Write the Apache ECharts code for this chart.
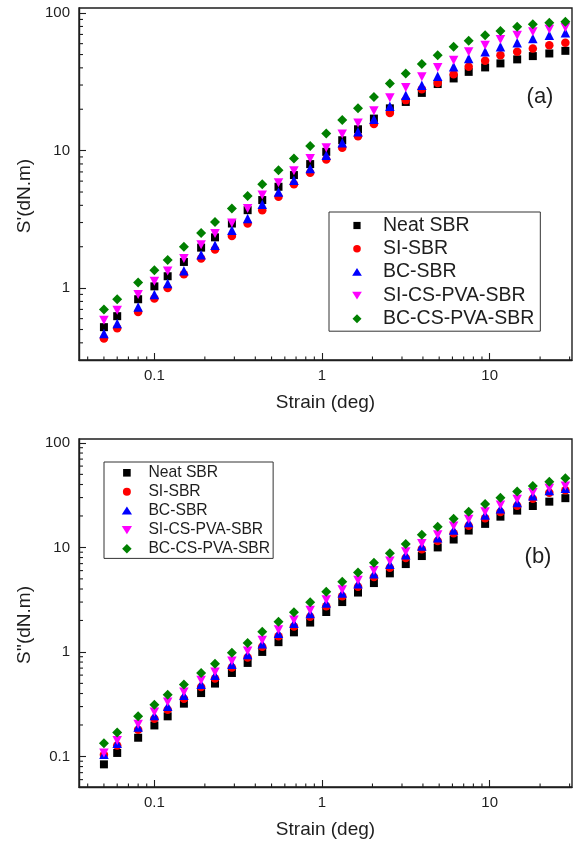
<!DOCTYPE html>
<html>
<head>
<meta charset="utf-8">
<script src="https://cdn.jsdelivr.net/npm/echarts@6/dist/echarts.min.js"></script>
<style>
  html, body { margin: 0; padding: 0; background: #fff; }
  #chart { width: 577px; height: 844px; }
</style>
</head>
<body>
<div id="chart"></div>
<script>
// Strain sweep (deg)
const strain = [0.05, 0.06, 0.08, 0.1, 0.12, 0.15, 0.19, 0.23, 0.29, 0.36, 0.44, 0.55, 0.68, 0.85, 1.06,
  1.32, 1.64, 2.04, 2.54, 3.16, 3.94, 4.9, 6.1, 7.5, 9.4, 11.6, 14.6, 18.1, 22.7, 28.3];

const seriesNames = ['Neat SBR', 'SI-SBR', 'BC-SBR', 'SI-CS-PVA-SBR', 'BC-CS-PVA-SBR'];

// (a) elastic torque S' (dN.m)
const storageNeat = [0.52, 0.625, 0.83, 1.03, 1.22, 1.55, 1.97, 2.34, 2.95, 3.69, 4.37, 5.46, 6.64, 7.98, 9.8,
  11.9, 14.3, 17.1, 20.3, 22.6, 26.3, 30.5, 33.5, 37.4, 40.3, 43.1, 46.1, 48.7, 50.9, 53.2];
const storageSI = [0.43, 0.51, 0.67, 0.84, 1.0, 1.26, 1.64, 1.91, 2.39, 2.95, 3.69, 4.61, 5.7, 6.9, 8.63,
  10.5, 12.7, 15.6, 18.8, 23.3, 27.9, 31.1, 36.0, 40.7, 45.0, 49.5, 52.3, 55.3, 58.5, 60.8];
const storageBC = [0.468, 0.553, 0.73, 0.9, 1.08, 1.34, 1.75, 2.05, 2.64, 3.21, 4.08, 5.0, 6.1, 7.42, 9.27,
  11.4, 13.7, 16.9, 21.0, 25.3, 29.9, 34.8, 40.7, 46.8, 52.3, 56.9, 60.8, 65.5, 69.2, 72.1];
const storageSICS = [0.585, 0.69, 0.9, 1.12, 1.33, 1.64, 2.07, 2.5, 2.98, 3.8, 4.75, 5.83, 7.13, 8.77, 10.5,
  13.2, 15.9, 19.5, 24.2, 28.8, 34.4, 40.3, 45.5, 52.3, 58.5, 64.4, 69.2, 73.1, 76.2, 78.7];
const storageBCCS = [0.7, 0.83, 1.1, 1.35, 1.6, 2.0, 2.52, 3.03, 3.8, 4.67, 5.7, 7.2, 8.77, 10.8, 13.3,
  16.7, 20.3, 24.6, 30.8, 36.4, 42.6, 49.5, 56.9, 62.9, 69.2, 74.3, 79.5, 83.2, 85.1, 86.5];

// (b) viscous torque S'' (dN.m)
const lossNeat = [0.084, 0.108, 0.151, 0.198, 0.242, 0.32, 0.404, 0.498, 0.629, 0.785, 1.0, 1.24, 1.54, 1.91, 2.41,
  3.0, 3.7, 4.56, 5.65, 6.93, 8.27, 10.0, 11.9, 14.5, 16.8, 19.7, 22.5, 24.9, 27.4, 29.6];
const lossSI = [0.104, 0.127, 0.18, 0.23, 0.28, 0.357, 0.462, 0.556, 0.708, 0.883, 1.12, 1.41, 1.75, 2.17, 2.74,
  3.41, 4.2, 5.2, 6.4, 7.9, 9.6, 11.5, 13.7, 16.1, 19.0, 21.8, 25.0, 29.2, 33.3, 35.3];
const lossBC = [0.105, 0.134, 0.191, 0.247, 0.302, 0.384, 0.49, 0.598, 0.762, 0.944, 1.2, 1.51, 1.88, 2.33, 2.94,
  3.66, 4.5, 5.6, 6.9, 8.5, 10.3, 12.4, 14.7, 17.3, 20.4, 23.4, 26.9, 31.2, 35.0, 36.9];
const lossSICS = [0.108, 0.142, 0.203, 0.266, 0.332, 0.413, 0.535, 0.643, 0.82, 1.02, 1.29, 1.63, 2.02, 2.5, 3.16,
  3.94, 4.85, 6.0, 7.4, 9.1, 10.9, 13.2, 16.0, 18.6, 22.0, 25.5, 28.9, 33.5, 36.9, 38.8];
const lossBCCS = [0.134, 0.169, 0.242, 0.313, 0.39, 0.487, 0.63, 0.77, 0.98, 1.22, 1.56, 1.94, 2.4, 2.98, 3.76,
  4.69, 5.77, 7.13, 8.8, 10.8, 13.2, 15.8, 18.8, 22.0, 26.1, 29.9, 34.2, 38.7, 42.6, 45.9];

// Minor tick values of the logarithmic axes
const xMinorTicks = [0.04, 0.05, 0.06, 0.07, 0.08, 0.09, 0.2, 0.3, 0.4, 0.5, 0.6, 0.7, 0.8, 0.9,
  2, 3, 4, 5, 6, 7, 8, 9, 20, 30];
const yMinorTicksA = [0.4, 0.5, 0.6, 0.7, 0.8, 0.9, 2, 3, 4, 5, 6, 7, 8, 9, 20, 30, 40, 50, 60, 70, 80, 90];
const yMinorTicksB = [0.06, 0.07, 0.08, 0.09, 0.2, 0.3, 0.4, 0.5, 0.6, 0.7, 0.8, 0.9,
  2, 3, 4, 5, 6, 7, 8, 9, 20, 30, 40, 50, 60, 70, 80, 90];

const xRange = [0.0355, 31];
const yRangeA = [0.3, 109];
const yRangeB = [0.051, 109];

const FONT = "'Liberation Sans', Arial, Helvetica, sans-serif";
const INK = '#1e1e1e';

const markers = [
  { symbol: 'rect', size: 8, color: '#000000' },
  { symbol: 'circle', size: 8.5, color: '#ff0000' },
  { symbol: 'triangle', size: 9.5, color: '#0000ff' },
  { symbol: 'path://M0,0 L10,0 L5,9 Z', size: [9.5, 9], color: '#ff00ff' },
  { symbol: 'diamond', size: 10, color: '#008000' }
];

// Legend glyphs: a fixed bounding frame (the two moveTo points) keeps the shape
// undistorted inside the wide legend icon box.
function legendIcons(halfW, halfH, s) {
  const frame = `M${-halfW},${-halfH} M${halfW},${halfH} `;
  const r = s * 1.05;
  return [
    `path://${frame}M${-s},${-s} L${s},${-s} L${s},${s} L${-s},${s} Z`,
    `path://${frame}M${r},0 A${r},${r} 0 1 1 ${-r},0 A${r},${r} 0 1 1 ${r},0 Z`,
    `path://${frame}M0,${-s * 1.15} L${s * 1.35},${s} L${-s * 1.35},${s} Z`,
    `path://${frame}M${-s * 1.35},${-s} L${s * 1.35},${-s} L0,${s * 1.15} Z`,
    `path://${frame}M0,${-s * 1.25} L${s * 1.25},0 L0,${s * 1.25} L${-s * 1.25},0 Z`
  ];
}

const panelA = [storageNeat, storageSI, storageBC, storageSICS, storageBCCS];
const panelB = [lossNeat, lossSI, lossBC, lossSICS, lossBCCS];

function makeScatter(values, k, gridIndex) {
  const m = markers[k];
  return {
    type: 'scatter',
    name: seriesNames[k],
    xAxisIndex: gridIndex,
    yAxisIndex: gridIndex,
    symbol: m.symbol,
    symbolSize: m.size,
    itemStyle: { color: m.color, opacity: 1 },
    z: 3 + k,
    silent: true,
    data: strain.map((x, i) => [x, values[i]])
  };
}

// Short inward tick marks drawn through the axis scales
function minorTickSeries(gridIndex, values, onX, ref, len) {
  return {
    type: 'custom',
    xAxisIndex: gridIndex,
    yAxisIndex: gridIndex,
    silent: true,
    z: 10,
    data: values.map(v => onX ? [v, ref] : [ref, v]),
    renderItem: function (params, api) {
      const p = api.coord([api.value(0), api.value(1)]);
      return {
        type: 'line',
        shape: onX
          ? { x1: p[0], y1: p[1], x2: p[0], y2: p[1] - len }
          : { x1: p[0], y1: p[1], x2: p[0] + len, y2: p[1] },
        style: { stroke: INK, lineWidth: 1.1 }
      };
    }
  };
}

function xAxisFor(gridIndex) {
  return {
    type: 'log',
    gridIndex: gridIndex,
    min: xRange[0],
    max: xRange[1],
    logBase: 10,
    name: 'Strain (deg)',
    nameLocation: 'middle',
    nameGap: 33,
    nameTextStyle: { fontFamily: FONT, fontSize: 19, color: INK },
    axisLine: { show: true, lineStyle: { color: INK, width: 1.4 } },
    axisTick: { show: true, inside: true, length: 7, lineStyle: { color: INK, width: 1.1 } },
    axisLabel: { margin: 8, fontFamily: FONT, fontSize: 15, color: INK, showMinLabel: false, showMaxLabel: false },
    splitLine: { show: false }
  };
}

function yAxisFor(gridIndex, range) {
  return {
    type: 'log',
    gridIndex: gridIndex,
    min: range[0],
    max: range[1],
    logBase: 10,
    axisLine: { show: true, lineStyle: { color: INK, width: 1.4 } },
    axisTick: { show: true, inside: true, length: 7, lineStyle: { color: INK, width: 1.1 } },
    axisLabel: { margin: 9, fontFamily: FONT, fontSize: 15, color: INK, showMinLabel: false, showMaxLabel: false },
    splitLine: { show: false }
  };
}

const chart = echarts.init(document.getElementById('chart'), null, { renderer: 'canvas' });

const series = [];
panelA.forEach((vals, k) => series.push(makeScatter(vals, k, 0)));
panelB.forEach((vals, k) => series.push(makeScatter(vals, k, 1)));
series.push(minorTickSeries(0, xMinorTicks, true, yRangeA[0], 3.5));
series.push(minorTickSeries(0, yMinorTicksA, false, xRange[0], 4));
series.push(minorTickSeries(1, xMinorTicks, true, yRangeB[0], 3.5));
series.push(minorTickSeries(1, yMinorTicksB, false, xRange[0], 4));

const iconsA = legendIcons(21, 4.5, 3.6);
const iconsB = legendIcons(16.5, 5, 3.8);

chart.setOption({
  animation: false,
  backgroundColor: '#ffffff',
  grid: [
    { left: 79, right: 5, top: 8, height: 352, show: true, borderColor: INK, borderWidth: 1.4, backgroundColor: 'transparent' },
    { left: 79, right: 5, top: 439, height: 348, show: true, borderColor: INK, borderWidth: 1.4, backgroundColor: 'transparent' }
  ],
  xAxis: [xAxisFor(0), xAxisFor(1)],
  yAxis: [yAxisFor(0, yRangeA), yAxisFor(1, yRangeB)],
  legend: [
    {
      data: seriesNames.map((n, k) => ({ name: n, icon: iconsA[k] })),
      orient: 'vertical',
      left: 329,
      top: 212,
      padding: [3.5, 6, 2.5, 7],
      itemWidth: 42,
      itemHeight: 9,
      itemGap: 3.3,
      borderColor: '#333',
      borderWidth: 1,
      selectedMode: false,
      textStyle: { fontFamily: FONT, fontSize: 19.5, lineHeight: 19, color: INK }
    },
    {
      data: seriesNames.map((n, k) => ({ name: n, icon: iconsB[k] })),
      orient: 'vertical',
      left: 104,
      top: 462,
      padding: [2.8, 3, 1.6, 6.4],
      itemWidth: 33,
      itemHeight: 10,
      itemGap: 3,
      borderColor: '#333',
      borderWidth: 1,
      selectedMode: false,
      textStyle: { fontFamily: FONT, fontSize: 15.7, lineHeight: 15.5, color: INK }
    }
  ],
  graphic: [
    { type: 'text', x: 25, y: 196, rotation: Math.PI / 2,
      style: { text: "S'(dN.m)", fontFamily: FONT, fontSize: 19, fill: INK, align: 'center', verticalAlign: 'middle' } },
    { type: 'text', x: 25, y: 625, rotation: Math.PI / 2,
      style: { text: "S''(dN.m)", fontFamily: FONT, fontSize: 19, fill: INK, align: 'center', verticalAlign: 'middle' } },
    { type: 'text', x: 540, y: 97,
      style: { text: '(a)', fontFamily: FONT, fontSize: 22, fill: INK, align: 'center', verticalAlign: 'middle' } },
    { type: 'text', x: 538, y: 557,
      style: { text: '(b)', fontFamily: FONT, fontSize: 22, fill: INK, align: 'center', verticalAlign: 'middle' } }
  ],
  series: series
});
</script>
</body>
</html>
